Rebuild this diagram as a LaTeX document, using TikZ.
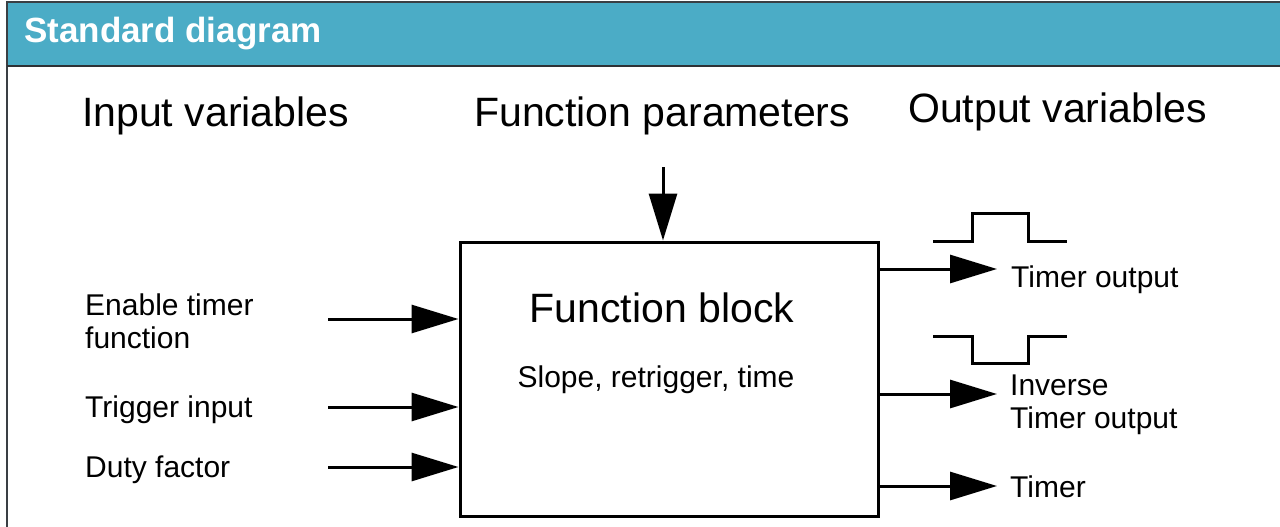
\documentclass[tikz,border=0pt]{standalone}
\usepackage{fontspec}
\setmainfont{Liberation Sans}
\usetikzlibrary{arrows.meta}
\definecolor{hdr}{HTML}{4BACC6}
\definecolor{frame}{HTML}{3A3F44}
\tikzset{
  big/.style={font=\fontsize{41}{49}\selectfont, inner sep=0pt, text=black},
  small/.style={font=\fontsize{30}{33.5}\selectfont, inner sep=0pt, text=black, align=left},
  wire/.style={line width=3pt, -{Triangle[length=47pt,width=28pt]}},
  pulse/.style={line width=3pt},
}
\begin{document}
\begin{tikzpicture}[x=1pt,y=-1pt]
\useasboundingbox (0,0) rectangle (1280,527);
\fill[white] (0,0) rectangle (1280,527);
% header
\fill[hdr] (7,2) rectangle (1280,66);
\draw[frame, line width=2pt] (6,2) -- (1280,2);
\draw[frame, line width=2pt] (7,2) -- (7,527);
\draw[frame!80!black, line width=2pt] (7,66) -- (1280,66);
\node[anchor=base west, inner sep=0pt, text=white, font=\fontsize{35}{40}\selectfont\bfseries] (title) at (24,43) {Standard diagram};
% column headings
\node[big, anchor=base west] (inv) at (82,126) {Input variables};
\node[big, anchor=base west] (fpar) at (474,126) {Function parameters};
\node[big, anchor=base west] (outv) at (908,122) {Output variables};
% function block
\node[draw, line width=3pt, minimum width=418pt, minimum height=274pt, inner sep=0pt] (fb) at (669,379) {};
\node[big, anchor=base] (fbt) at (662,322) {Function block};
\node[small, anchor=base] (fbs) at (656,387) {Slope, retrigger, time};
% parameter arrow
\coordinate (par) at (663,167);
\draw[wire] (par) -- (par |- fb.north);
% inputs
\node[small, anchor=base west] (l1) at (85,348.5) {Enable timer\\function};
\node[small, anchor=base west] (l2) at (85,417) {Trigger input};
\node[small, anchor=base west] (l3) at (85,477) {Duty factor};
\coordinate (i1) at (328,319);
\coordinate (i2) at (328,407);
\coordinate (i3) at (328,467);
\draw[wire] (i1) -- (fb.west |- i1);
\draw[wire] (i2) -- (fb.west |- i2);
\draw[wire] (i3) -- (fb.west |- i3);
% outputs
\coordinate (o1) at (997,269);
\coordinate (o2) at (997,394);
\coordinate (o3) at (997,486);
\draw[wire] (fb.east |- o1) -- (o1);
\draw[wire] (fb.east |- o2) -- (o2);
\draw[wire] (fb.east |- o3) -- (o3);
\node[small, anchor=base west] (r1) at (1011,287) {Timer output};
\node[small, anchor=base west] (r2) at (1010,428.5) {Inverse\\Timer output};
\node[small, anchor=base west] (r3) at (1010,497) {Timer};
% pulses
\draw[pulse] (933,241) -- (972,241) -- (972,213) -- (1028,213) -- (1028,241) -- (1067,241);
\draw[pulse] (933,336) -- (972,336) -- (972,363) -- (1028,363) -- (1028,336) -- (1067,336);
\end{tikzpicture}
\end{document}
